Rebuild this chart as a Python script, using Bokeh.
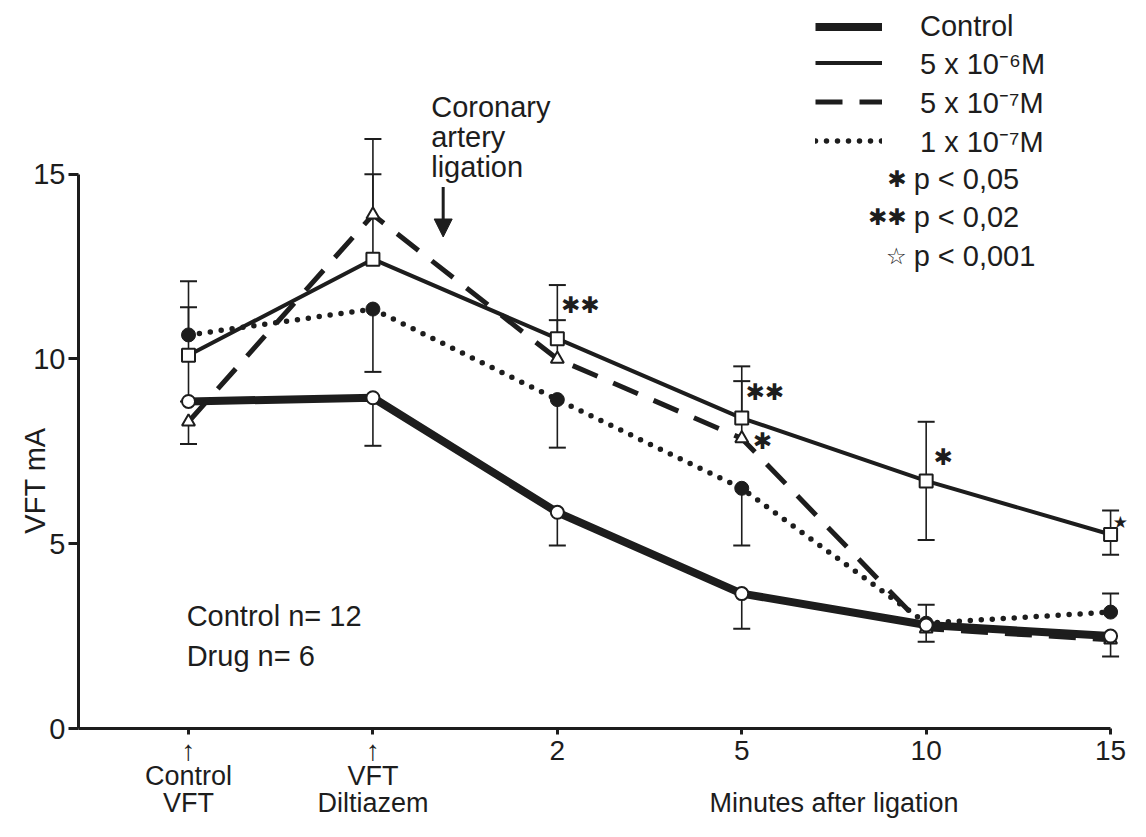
import math
from bokeh.plotting import figure
from bokeh.models import (ColumnDataSource, FixedTicker, Whisker, TeeHead, LinearAxis,
                          Legend, LegendItem, Arrow, NormalHead)
from bokeh.core.properties import value
from bokeh.embed import file_html
from bokeh.resources import INLINE

NAN = float("nan")

# ---------------- data ----------------
x_pos = [0, 1, 2, 3, 4, 5]
x_tick_labels = ["Control\nVFT", "VFT\nDiltiazem", "2", "5", "10", "15"]
x_title = "Minutes after ligation"
y_title = "VFT mA"
y_ticks = [0, 5, 10, 15]

series_names = ["Control", "5 x 10\u207b\u2076M", "5 x 10\u207b\u2077M", "1 x 10\u207b\u2077M"]

control_mean = [8.85, 8.95, 5.85, 3.65, 2.8, 2.5]
control_hi = [NAN, NAN, NAN, NAN, NAN, NAN]
control_lo = [NAN, 7.65, 4.95, 2.7, 2.35, 1.95]

d5e6_mean = [10.1, 12.7, 10.55, 8.4, 6.7, 5.25]
d5e6_hi = [11.4, 15.0, 12.0, 9.8, 8.3, 5.9]
d5e6_lo = [8.85, NAN, NAN, NAN, 5.1, 4.7]

d5e7_mean = [8.3, 13.9, 10.0, 7.85, 2.7, 2.4]
d5e7_hi = [NAN, 15.95, 11.05, 9.4, NAN, NAN]
d5e7_lo = [7.7, NAN, NAN, NAN, NAN, NAN]

d1e7_mean = [10.65, 11.35, 8.9, 6.5, 2.85, 3.15]
d1e7_hi = [12.1, NAN, NAN, NAN, 3.35, 3.65]
d1e7_lo = [NAN, 9.65, 7.6, 4.95, NAN, NAN]

# significance marks next to points
sig_x = [2, 3, 3, 4]
sig_y = [11.47, 9.1, 7.78, 7.35]
sig_text = ["\u2731\u2731", "\u2731\u2731", "\u2731", "\u2731"]
star_x = [5]
star_y = [5.6]
star_text = ["\u2605"]

p_symbols = ["\u2731", "\u2731\u2731", "\u2606"]
p_texts = ["p < 0,05", "p < 0,02", "p < 0,001"]

# ---------------- style ----------------
FONT = "Liberation Sans"
SYM_FONT = "DejaVu Sans"
INK = "#1d1d1d"
FS = "29px"

p = figure(width=1130, height=821, output_backend="svg", toolbar_location=None,
           x_range=(-0.5965, 5.108), y_range=(0, 19.7),
           min_border_left=78, min_border_right=0, min_border_top=0,
           min_border_bottom=88, background_fill_color="white",
           border_fill_color="white", outline_line_color=None)
p.grid.visible = False

# main axes
axA = p.xaxis[0]
axA.ticker = FixedTicker(ticks=x_pos)
axA.major_label_overrides = {x: ("\u2191" if "\n" in lab else lab)
                             for x, lab in zip(x_pos, x_tick_labels)}
axA.bounds = (-0.5965, 5)
p.yaxis.ticker = FixedTicker(ticks=y_ticks)
p.yaxis.bounds = (0, 15)
for ax in (axA, p.yaxis[0]):
    ax.axis_line_width = 3
    ax.axis_line_color = INK
    ax.major_tick_line_width = 3
    ax.major_tick_line_color = INK
    ax.minor_tick_line_color = None
    ax.major_tick_in = 0
    ax.major_label_text_font = FONT
    ax.major_label_text_font_size = FS
    ax.major_label_text_color = INK
axA.major_label_text_font_size = "28px"
axA.major_tick_out = 6
axA.major_label_standoff = 0
p.yaxis.major_tick_out = 10
p.yaxis.major_label_standoff = 3

# y title, placed level with the middle of the data
axT = LinearAxis(ticker=FixedTicker(ticks=[8.15]), major_label_overrides={8.15: y_title},
                 major_label_orientation=math.pi / 2, axis_line_color=None,
                 major_tick_line_color=None, minor_tick_line_color=None,
                 major_tick_out=0, major_tick_in=0, major_label_standoff=-5,
                 major_label_text_font=FONT, major_label_text_font_size=FS,
                 major_label_text_color=INK)
p.add_layout(axT, "left")

# second row of x labels (names of the first two points and the axis title)
labB = {x: lab for x, lab in zip(x_pos, x_tick_labels) if "\n" in lab}
labB[3.5] = "\n" + x_title
axB = LinearAxis(ticker=FixedTicker(ticks=sorted(labB)), major_label_overrides=labB,
                 axis_line_color=None, major_tick_line_color=None,
                 minor_tick_line_color=None, major_tick_out=0, major_tick_in=0,
                 major_label_standoff=-8, major_label_text_font=FONT,
                 major_label_text_font_size="27px", major_label_text_color=INK,
                 major_label_text_line_height=0.92)
p.add_layout(axB, "below")

# lines
r_control = p.line(x_pos, control_mean, line_color=INK, line_width=8, line_join="round")
r_5e6 = p.line(x_pos, d5e6_mean, line_color=INK, line_width=4, line_join="round")
r_5e7 = p.line(x_pos, d5e7_mean, line_color=INK, line_width=5, line_dash="27 17")
r_1e7 = p.line(x_pos, d1e7_mean, line_color=INK, line_width=5.5, line_dash="0 11",
               line_cap="round")


def add_whiskers(mean, hi, lo):
    up = [(x, m, h) for x, m, h in zip(x_pos, mean, hi) if not math.isnan(h)]
    dn = [(x, m, l) for x, m, l in zip(x_pos, mean, lo) if not math.isnan(l)]
    if up:
        s = ColumnDataSource(dict(x=[u[0] for u in up], lower=[u[1] for u in up],
                                  upper=[u[2] for u in up]))
        p.add_layout(Whisker(source=s, base="x", lower="lower", upper="upper",
                             dimension="height", lower_head=None,
                             upper_head=TeeHead(size=17, line_width=2, line_color=INK),
                             line_width=1.6, line_color=INK))
    if dn:
        s = ColumnDataSource(dict(x=[u[0] for u in dn], upper=[u[1] for u in dn],
                                  lower=[u[2] for u in dn]))
        p.add_layout(Whisker(source=s, base="x", lower="lower", upper="upper",
                             dimension="height", upper_head=None,
                             lower_head=TeeHead(size=17, line_width=2, line_color=INK),
                             line_width=1.6, line_color=INK))


for m, h, l in [(control_mean, control_hi, control_lo), (d5e6_mean, d5e6_hi, d5e6_lo),
                (d5e7_mean, d5e7_hi, d5e7_lo), (d1e7_mean, d1e7_hi, d1e7_lo)]:
    add_whiskers(m, h, l)

# markers
p.scatter(x_pos, d1e7_mean, marker="circle", size=14, fill_color=INK, line_color=INK)
p.scatter(x_pos, d5e7_mean, marker="triangle", size=13, fill_color="white",
          line_color=INK, line_width=2)
p.scatter(x_pos, d5e6_mean, marker="square", size=13, fill_color="white",
          line_color=INK, line_width=2)
p.scatter(x_pos, control_mean, marker="circle", size=13, fill_color="white",
          line_color=INK, line_width=2)

# significance markers next to points
sig_dx = [0.02, 0.02, 0.06, 0.04]
p.text(x=[x + d for x, d in zip(sig_x, sig_dx)], y=sig_y, text=sig_text,
       text_font=value(SYM_FONT), text_font_size="23px", text_color=INK,
       text_align="left", text_baseline="middle")
p.text(x=[x + 0.012 for x in star_x], y=star_y, text=star_text,
       text_font=value(SYM_FONT), text_font_size="17px", text_color=INK,
       text_align="left", text_baseline="middle")

# legend for the lines
legend = Legend(items=[LegendItem(label=n, renderers=[r]) for n, r in
                       zip(series_names, [r_control, r_5e6, r_5e7, r_1e7])],
                location=(737, 568), glyph_width=67, glyph_height=33, label_height=33,
                spacing=-1, padding=0, margin=0, label_standoff=38,
                label_text_font=FONT, label_text_font_size=FS, label_text_color=INK,
                border_line_color=None, background_fill_alpha=0)
p.add_layout(legend)

# p-value key
p_y = [14.86, 13.84, 12.79]
p.text(x=[3.894] * 3, y=p_y, text=p_symbols, text_font=value(SYM_FONT),
       text_font_size="23px", text_color=INK, text_align="right", text_baseline="middle")
p.text(x=[3.932] * 3, y=p_y, text=p_texts, text_font=value(FONT),
       text_font_size=FS, text_color=INK, text_align="left", text_baseline="middle")

# annotations inside the plot
p.text(x=[1.316], y=[17.25], text=["Coronary\nartery\nligation"], text_font=value(FONT),
       text_font_size=FS, text_color=INK, text_align="left", text_baseline="top",
       text_line_height=0.93)
p.add_layout(Arrow(end=NormalHead(size=18, fill_color=INK, line_color=INK),
                   x_start=1.381, y_start=14.65, x_end=1.381, y_end=13.3,
                   line_width=3, line_color=INK))

p.text(x=[-0.01, -0.01], y=[3.05, 1.95], text=["Control  n= 12", "Drug  n= 6"],
       text_font=value(FONT), text_font_size=FS, text_color=INK,
       text_align="left", text_baseline="alphabetic")

open("out.html", "w").write(file_html(p, INLINE))
